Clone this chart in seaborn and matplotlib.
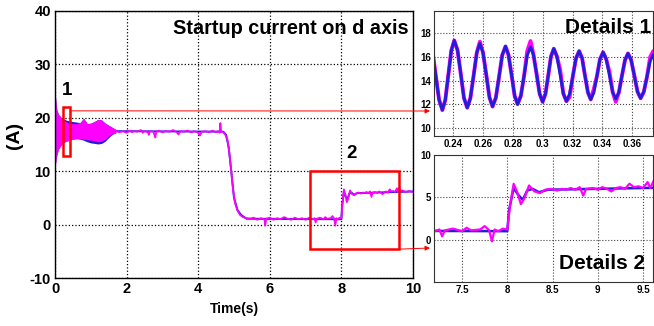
import matplotlib
matplotlib.use('Agg')
import matplotlib.pyplot as plt
from matplotlib.patches import Rectangle
from matplotlib.ticker import FormatStrFormatter
import pandas as pd
import seaborn as sns

# --- startup oscillation band (0 - 1.7 s), envelopes
band_t = [0.02, 0.05, 0.1, 0.2, 0.3, 0.4, 0.5, 0.6, 0.7, 0.8, 0.9, 1.0, 1.1, 1.2, 1.3, 1.4, 1.5, 1.6, 1.7]
pink_hi = [24.0, 21.5, 20.6, 19.8, 19.3, 19.0, 18.9, 18.9, 19.1, 19.9, 18.9, 19.0, 19.3, 19.7, 19.6, 19.0, 18.6, 18.2, 17.8]
pink_lo = [11.5, 13.0, 14.2, 15.2, 15.6, 15.8, 16.0, 16.1, 16.1, 16.0, 15.9, 15.8, 15.7, 15.5, 15.6, 16.0, 16.6, 17.0, 17.2]
blue_hi = [24.0, 21.5, 20.6, 19.9, 19.6, 19.4, 19.3, 19.2, 19.1, 19.9, 18.9, 19.0, 19.3, 19.7, 19.6, 19.0, 18.6, 18.2, 17.8]
blue_lo = [11.5, 13.0, 14.2, 15.2, 15.6, 15.8, 16.0, 16.1, 16.0, 15.8, 15.5, 15.3, 15.2, 15.1, 15.2, 15.6, 16.3, 16.9, 17.2]

# first spike at t = 0
start_t = [0.0, 0.005, 0.012, 0.02]
start_i = [17.0, 30.0, 11.5, 22.0]

# pink d-axis current after the startup band
main_t = [1.70, 1.80, 1.90, 2.00, 2.10, 2.15, 2.20, 2.30, 2.40, 2.45, 2.50, 2.60, 2.62, 2.65, 2.75, 2.80, 2.83,
          2.90, 3.00, 3.10, 3.20, 3.30, 3.40, 3.45, 3.50, 3.60, 3.70, 3.80, 3.90, 4.00, 4.05, 4.10, 4.20, 4.30,
          4.40, 4.50, 4.55, 4.60, 4.62, 4.64, 4.70, 4.76, 4.82, 4.87, 4.92, 4.97, 5.03, 5.10, 5.17, 5.25, 5.35,
          5.45, 5.55, 5.65, 5.75, 5.85, 5.87, 5.90, 6.00, 6.10, 6.20, 6.30, 6.40, 6.50, 6.60, 6.70, 6.80, 6.90,
          7.00, 7.10, 7.20, 7.25, 7.28, 7.31, 7.40, 7.50, 7.55, 7.60, 7.70, 7.75, 7.80, 7.83, 7.86, 7.90, 7.95,
          8.00, 8.03, 8.07, 8.11, 8.15, 8.19, 8.24, 8.30, 8.36, 8.42, 8.48, 8.55, 8.60, 8.65, 8.70, 8.75, 8.80,
          8.84, 8.87, 8.95, 9.00, 9.05, 9.10, 9.15, 9.20, 9.25, 9.30, 9.35, 9.40, 9.45, 9.50, 9.55, 9.58, 9.62,
          9.65, 9.70, 9.80, 9.90, 10.0]
main_i = [17.6, 17.3, 17.5, 17.2, 17.6, 17.3, 17.5, 17.4, 17.7, 17.2, 17.5, 17.3, 16.8, 17.5, 17.4, 16.3, 17.4,
          17.6, 17.3, 17.5, 17.4, 17.7, 17.3, 16.9, 17.5, 17.4, 17.6, 17.3, 17.5, 17.2, 16.7, 17.4, 17.5, 17.3,
          17.6, 17.3, 17.5, 17.2, 19.0, 17.4, 17.3, 16.8, 15.8, 13.5, 10.2, 6.8, 4.0, 2.6, 1.8, 1.4, 1.2,
          1.1, 1.3, 0.9, 1.2, 1.0, -0.2, 1.1, 1.3, 0.9, 1.2, 1.0, 1.4, 1.1, 0.9, 1.3, 1.0, 1.2,
          0.9, 1.3, 1.0, 1.2, 0.4, 1.1, 1.3, 1.0, 1.4, 1.1, 1.2, 1.6, 1.1, -0.2, 1.2, 1.0, 1.3,
          1.2, 4.0, 6.6, 5.6, 4.2, 4.9, 6.4, 5.7, 5.5, 5.9, 6.0, 5.8, 6.0, 5.9, 6.1, 5.9, 6.2,
          5.2, 6.0, 6.1, 5.9, 6.2, 6.0, 5.7, 6.1, 6.2, 6.0, 6.6, 6.2, 6.3, 6.1, 6.8, 6.1, 7.0,
          6.2, 6.4, 6.1, 6.3, 6.1]

# blue (reference) current, smoother
blue_t = [1.70, 4.70, 4.78, 4.85, 4.92, 5.00, 5.10, 5.20, 5.35, 8.00, 8.02, 8.07, 8.12, 8.17, 8.22, 8.28, 8.35, 8.45, 9.00, 10.0]
blue_i = [17.5, 17.4, 16.8, 14.5, 10.2, 5.0, 2.7, 1.8, 1.1, 1.0, 3.5, 6.1, 5.3, 4.7, 5.8, 6.0, 5.6, 5.9, 6.0, 6.2]

# details 1 (0.22 - 0.37 s)
d1_t = [0.2236, 0.2259, 0.2281, 0.2304, 0.2326, 0.2346, 0.2366, 0.2386, 0.2406, 0.2428, 0.2450, 0.2471, 0.2493,
        0.2514, 0.2536, 0.2557, 0.2578, 0.2599, 0.2621, 0.2642, 0.2663, 0.2685, 0.2707, 0.2728, 0.2750, 0.2770,
        0.2791, 0.2811, 0.2831, 0.2853, 0.2875, 0.2896, 0.2918, 0.2938, 0.2959, 0.2979, 0.2999, 0.3018, 0.3037,
        0.3055, 0.3074, 0.3095, 0.3117, 0.3138, 0.3159, 0.3180, 0.3202, 0.3223, 0.3244, 0.3264, 0.3283, 0.3303,
        0.3322, 0.3343, 0.3364, 0.3384, 0.3405, 0.3426, 0.3448, 0.3469, 0.3490, 0.3511, 0.3531, 0.3552, 0.3572,
        0.3593, 0.3615, 0.3636, 0.3657, 0.3678, 0.3700, 0.3721, 0.3742]
d1_blue = [17.5, 16.62, 14.5, 12.38, 11.5, 12.36, 14.45, 16.54, 17.4, 16.57, 14.55, 12.53, 11.7,
           12.5, 14.43, 16.35, 17.15, 16.37, 14.48, 12.58, 11.8, 12.54, 14.35, 16.16, 16.9, 16.18,
           14.45, 12.72, 12.0, 12.71, 14.43, 16.14, 16.85, 16.17, 14.53, 12.88, 12.2, 12.86, 14.45,
           16.04, 16.7, 16.05, 14.48, 12.90, 12.25, 12.87, 14.38, 15.88, 16.5, 15.9, 14.45, 13.0,
           12.4, 12.98, 14.4, 15.82, 16.4, 15.82, 14.43, 13.03, 12.45, 13.01, 14.38, 15.74, 16.3,
           15.75, 14.4, 13.05, 12.5, 13.04, 14.35, 15.66, 16.2]
d1_pink = list(d1_blue)
for k, v in {16: 17.3, 31: 16.5, 32: 17.35, 42: 14.9, 45: 12.6, 53: 13.3, 58: 14.7, 60: 12.2, 71: 16.0, 72: 16.5}.items():
    d1_pink[k] = v

PINK = '#ff00ff'
BLUE = '#1f1fd6'
RED = '#ff0000'

sns.set_style('white')
plt.rcParams['font.family'] = ['Liberation Sans', 'DejaVu Sans']
plt.rcParams['font.weight'] = 'bold'
plt.rcParams['axes.labelweight'] = 'bold'
plt.rcParams['axes.unicode_minus'] = False
for key in ('text.color', 'axes.labelcolor', 'xtick.color', 'ytick.color'):
    plt.rcParams[key] = 'black'

fig = plt.figure(figsize=(6.54, 3.26), dpi=100)
ax = fig.add_axes([0.0841, 0.1472, 0.5474, 0.8191])
ax1 = fig.add_axes([0.6636, 0.5828, 0.3349, 0.3835])
ax2 = fig.add_axes([0.6636, 0.1350, 0.3349, 0.3896])

main_df = pd.DataFrame({'t': main_t, 'i': main_i})
blue_df = pd.DataFrame({'t': blue_t, 'i': blue_i})

# main plot
ax.fill_between(band_t, blue_lo, blue_hi, color=BLUE, lw=0)
ax.fill_between(band_t, pink_lo, pink_hi, color=PINK, lw=0)
sns.lineplot(x=start_t, y=start_i, ax=ax, color=PINK, lw=1.0, estimator=None, sort=False)
sns.lineplot(data=blue_df, x='t', y='i', ax=ax, color=BLUE, lw=1.4, estimator=None, sort=False)
sns.lineplot(data=main_df, x='t', y='i', ax=ax, color=PINK, lw=1.3, estimator=None, sort=False)
ax.set_xlim(0, 10)
ax.set_ylim(-10, 40)
ax.set_xticks([0, 2, 4, 6, 8, 10])
ax.set_yticks([-10, 0, 10, 20, 30, 40])
ax.tick_params(direction='in', length=3, labelsize=10.5, pad=3)
ax.grid(True, color='black', linestyle=':', linewidth=0.9)
ax.set_xlabel('Time(s)', fontsize=10)
ax.set_ylabel('(A)', fontsize=14)
ax.xaxis.set_label_coords(0.5, -0.09)
ax.yaxis.set_label_coords(-0.09, 0.535)
ax.text(0.989, 0.936, 'Startup current on d axis', transform=ax.transAxes, ha='right', va='center', fontsize=14.3)

ax.add_patch(Rectangle((0.22, 12.8), 0.2, 9.2, fill=False, ec=RED, lw=1.8, zorder=5))
ax.add_patch(Rectangle((7.12, -4.6), 2.48, 14.6, fill=False, ec=RED, lw=1.8, zorder=5))
ax.text(0.33, 25.2, '1', ha='center', va='center', fontsize=13.5)
ax.text(8.27, 13.3, '2', ha='center', va='center', fontsize=13.5)

arrow = dict(arrowstyle='-|>', color=RED, lw=0.7, mutation_scale=7, shrinkA=0, shrinkB=0)
ax.annotate('', xy=(0.6575, 0.6595), xycoords='figure fraction', xytext=(0.42, 21.3), textcoords='data',
            arrowprops=arrow, annotation_clip=False)
ax.annotate('', xy=(0.6575, 0.2393), xycoords='figure fraction', xytext=(9.6, -4.6), textcoords='data',
            arrowprops=arrow, annotation_clip=False)

# details 1
sns.lineplot(x=d1_t, y=d1_pink, ax=ax1, color=PINK, lw=2.8, estimator=None, sort=False)
sns.lineplot(x=d1_t, y=d1_blue, ax=ax1, color=BLUE, lw=2.1, estimator=None, sort=False)
ax1.set_xlim(0.227, 0.374)
ax1.set_ylim(9.3, 19.9)
ax1.set_xticks([0.24, 0.26, 0.28, 0.30, 0.32, 0.34, 0.36])
ax1.set_yticks([10, 12, 14, 16, 18])
ax1.xaxis.set_major_formatter(FormatStrFormatter('%g'))
ax1.text(0.99, 0.864, 'Details 1', transform=ax1.transAxes, ha='right', va='center', fontsize=15)

# details 2
sns.lineplot(data=blue_df, x='t', y='i', ax=ax2, color=BLUE, lw=1.8, estimator=None, sort=False)
sns.lineplot(data=main_df, x='t', y='i', ax=ax2, color=PINK, lw=1.6, estimator=None, sort=False)
ax2.set_xlim(7.19, 9.61)
ax2.set_ylim(-5, 10)
ax2.set_xticks([7.5, 8, 8.5, 9, 9.5])
ax2.set_yticks([0, 5, 10])
ax2.xaxis.set_major_formatter(FormatStrFormatter('%g'))
ax2.text(0.963, 0.142, 'Details 2', transform=ax2.transAxes, ha='right', va='center', fontsize=15)

for a in (ax1, ax2):
    a.set_xlabel('')
    a.set_ylabel('')
    a.tick_params(direction='in', length=2, labelsize=7, pad=2)
    a.grid(True, color='#444444', linestyle=':', linewidth=0.8)
    for s in a.spines.values():
        s.set_color('#333333')
        s.set_linewidth(0.8)

for s in ax.spines.values():
    s.set_color('black')
    s.set_linewidth(1.0)

fig.savefig('out.png', dpi=100)
